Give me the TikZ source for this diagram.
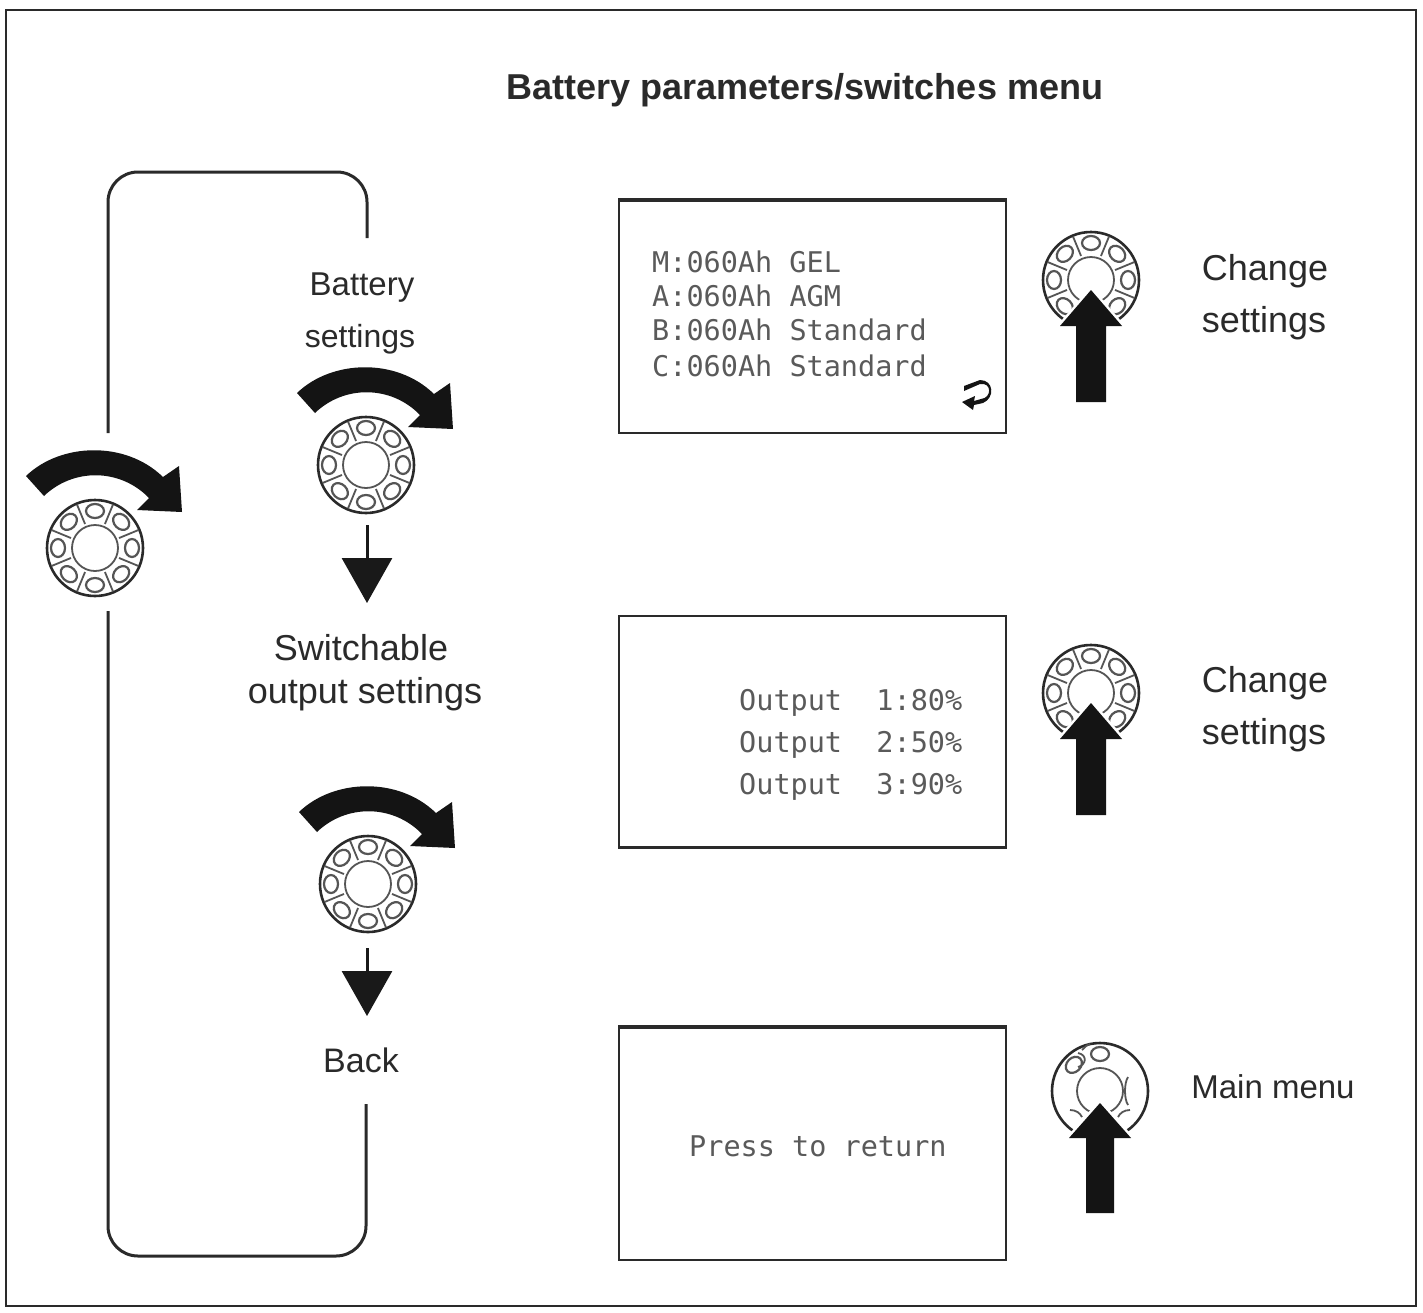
\documentclass[tikz,border=0pt]{standalone}
\usepackage{fontspec}
\usetikzlibrary{arrows.meta}
\setmainfont{Liberation Sans}
\newfontfamily\lcdfont{DejaVu Sans Mono}
\definecolor{ink}{HTML}{2A2A2A}
\definecolor{lcd}{HTML}{5A5A5A}
\tikzset{
  label36/.style={inner sep=0pt,anchor=base,text=ink,font=\fontsize{36}{36}\selectfont},
  lcdline/.style={inner sep=0pt,anchor=base west,text=lcd,font=\lcdfont\fontsize{28.5}{28.5}\selectfont},
  screen/.style={draw=ink,line width=1.6pt,fill=white},
  loopline/.style={draw=ink,line width=3pt,rounded corners=30pt},
  downarrow/.style={draw=black!90,line width=3pt,-{Triangle[length=45pt,width=50pt]}},
  bigknob/.style={circle,draw=ink,line width=2.6pt,minimum size=96pt,inner sep=0pt,fill=white},
  ringline/.style={draw=ink!80,line width=1.8pt},
  ballline/.style={draw=ink!80,line width=2.2pt,fill=white},
  blackfill/.style={fill=black!92,draw=none}
}
\newcommand{\knobparts}[2]{%
  \begin{scope}[shift={(#1,#2)}]
    \foreach \a in {22.5,67.5,...,337.5}
      \draw[ringline,rotate=\a] (0,-26) -- (0,-47);
    \foreach \a in {0,45,...,315}
      \draw[ballline,rotate=\a] (0,-37) ellipse [x radius=9pt,y radius=7pt];
    \draw[ringline,fill=white] (0,0) circle [radius=23pt];
  \end{scope}}
\newcommand{\turnarrow}[2]{%
  \begin{scope}[shift={(#1,#2)}]
    \fill[blackfill] (-69,-72) .. controls (-35,-105) and (30,-108) .. (68,-71)
      -- (84,-82) -- (87,-36) -- (42,-38) -- (54,-50)
      .. controls (25,-80) and (-22,-80) .. (-51,-52) -- cycle;
  \end{scope}}
\newcommand{\pressarrow}[5]{% x, tip y, base y, bottom y, half shaft
  \fill[white] (#1-58,#3-6) rectangle (#1+58,#3+24);
  \draw[white,line width=5pt,line join=miter,fill=white] (#1,#2) -- (#1+31,#3) -- (#1-31,#3) -- cycle;
  \fill[blackfill] (#1,#2) -- (#1+31,#3) -- (#1+#5,#3) -- (#1+#5,#4) -- (#1-#5,#4) -- (#1-#5,#3) -- (#1-31,#3) -- cycle;}
\begin{document}
\begin{tikzpicture}[x=1pt,y=-1pt]
\useasboundingbox (0,0) rectangle (1423,1312);
\fill[white] (0,0) rectangle (1423,1312);
\draw[ink,line width=2.4pt] (6,10) rectangle (1416,1306);
\node[inner sep=0pt,anchor=base,text=ink,font=\fontsize{36}{36}\selectfont\bfseries] (title) at (805,99) {Battery parameters/switches menu};

% loop
\coordinate (lt) at (367,238);
\coordinate (ltc) at (367,172);
\coordinate (ltl) at (108,172);
\coordinate (lte) at (108,433);
\coordinate (lbs) at (108,611);
\coordinate (lbl) at (108,1256);
\coordinate (lbr) at (366,1256);
\coordinate (lb) at (366,1104);
\draw[loopline] (lt) -- (ltc) -- (ltl) -- (lte);
\draw[loopline] (lbs) -- (lbl) -- (lbr) -- (lb);

% left knobs
\node[bigknob] (k1) at (95,548) {};
\knobparts{95}{548}
\turnarrow{95}{548}
\node[bigknob] (k2) at (366,465) {};
\knobparts{366}{465}
\turnarrow{366}{465}
\node[bigknob] (k3) at (368,884) {};
\knobparts{368}{884}
\turnarrow{368}{884}

\coordinate (a1) at (367,603);
\coordinate (a1s) at (367,525);
\coordinate (a2) at (367,1016);
\coordinate (a2s) at (367,948);
\draw[downarrow] (a1s) -- (a1);
\draw[downarrow] (a2s) -- (a2);

% left labels
\node[label36,font=\fontsize{33}{33}\selectfont] (bat) at (362,295) {Battery};
\node[label36,font=\fontsize{32}{32}\selectfont] (set) at (360,347) {settings};
\node[label36] (sw) at (361,660) {Switchable};
\node[label36] (out) at (365,703) {output settings};
\node[label36,font=\fontsize{34}{34}\selectfont] (back) at (361,1072) {Back};

% screens
\node[screen,minimum width=387pt,minimum height=232pt,anchor=north west,inner sep=0pt] (s1) at (618,200) {};
\node[screen,minimum width=387pt,minimum height=231pt,anchor=north west,inner sep=0pt] (s2) at (618,615) {};
\node[screen,minimum width=387pt,minimum height=232pt,anchor=north west,inner sep=0pt] (s3) at (618,1027) {};
\draw[ink,line width=3.2pt] (s1.north west) -- (s1.north east);
\draw[ink,line width=3.2pt] (s2.south west) -- (s2.south east);
\draw[ink,line width=3.2pt] (s3.north west) -- (s3.north east);

\node[lcdline] (m) at (652,272) {M:060Ah GEL};
\node[lcdline] (ta) at (652,306) {A:\kern-.6em\ 060Ah AGM};
\node[lcdline] (tb) at (652,340) {B:\kern-.6em\ 060Ah Standard};
\node[lcdline] (tc) at (652,376) {C:\kern-.6em\ 060Ah Standard};
\node[lcdline] (o1) at (739,710) {Output\ \ 1:80\%};
\node[lcdline] (o2) at (739,752) {Output\ \ 2:50\%};
\node[lcdline] (o3) at (739,794) {Output\ \ 3:90\%};
\node[lcdline] (pr) at (689,1156) {Press to return};

% return glyph
\fill[blackfill] (964,391) -- (980,384) .. controls (992,382) and (992,398) .. (981,399)
  -- (974,401) -- (975,396) -- (962,402) -- (973,410) -- (974,405)
  -- (983,403) .. controls (995,398) and (994,380) .. (980,380) -- (964,386) -- cycle;

% right knobs
\node[bigknob] (k4) at (1091,280) {};
\knobparts{1091}{280}
\pressarrow{1091}{290}{326}{402}{15}
\node[bigknob] (k5) at (1091,693) {};
\knobparts{1091}{693}
\pressarrow{1091}{703}{739}{815}{15}
\node[bigknob] (k6) at (1100,1091) {};
\begin{scope}[shift={(1100,1091)}]
  \draw[ringline,fill=white] (0,0) circle [radius=23pt];
  \draw[ballline] (0,-37) ellipse [x radius=9pt,y radius=7pt];
  \draw[ballline,rotate=45] (0,-37) ellipse [x radius=9pt,y radius=7pt];
  \draw[ringline] (-22,-24) .. controls (-14,-26) and (-12,-36) .. (-22,-38);
  \draw[ringline] (-18,-41) .. controls (-14,-45) and (-12,-47) .. (-10,-47);
  \draw[ringline] (28,-14) .. controls (24,-8) and (24,8) .. (28,14);
  \draw[ringline] (-30,19) .. controls (-24,19) and (-20,22) .. (-18,26);
  \draw[ringline] (30,19) .. controls (24,19) and (20,22) .. (18,26);
\end{scope}
\pressarrow{1100}{1103}{1138}{1213}{14}

% right labels
\node[label36] (c1) at (1265,280) {Change};
\node[label36] (c2) at (1264,332) {settings};
\node[label36] (c3) at (1265,692) {Change};
\node[label36] (c4) at (1264,744) {settings};
\node[label36,font=\fontsize{33}{33}\selectfont] (mm) at (1273,1098) {Main menu};
\end{tikzpicture}
\end{document}
